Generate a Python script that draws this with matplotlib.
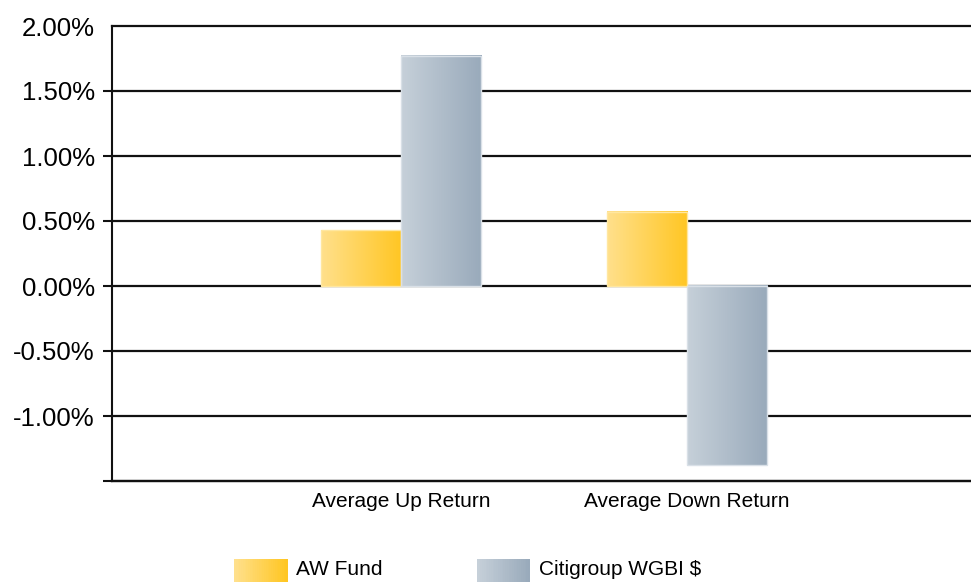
import numpy as np
import matplotlib
matplotlib.use("Agg")
import matplotlib.pyplot as plt
from matplotlib.patches import Rectangle
from matplotlib.legend_handler import HandlerBase
from matplotlib.colors import LinearSegmentedColormap

categories = ["Average Up Return", "Average Down Return"]
series_names = ["AW Fund", "Citigroup WGBI $"]
aw_fund = [0.43, 0.57]
citigroup = [1.77, -1.38]
y_ticks = [-1.5, -1.0, -0.5, 0.0, 0.5, 1.0, 1.5, 2.0]
y_labels = ["", "-1.00%", "-0.50%", "0.00%", "0.50%", "1.00%", "1.50%", "2.00%"]

grad_colors = [("#FFE08C", "#FFC623"), ("#C6D0D9", "#99AABB")]
edge_colors = ["#FFE7A0", "#D9E0E7"]

plt.rcParams["font.family"] = ["Liberation Sans", "DejaVu Sans"]

fig = plt.figure(figsize=(9.71, 5.82), dpi=100)
ax = fig.add_axes([112 / 971, 1 - 481 / 582, 1 - 112 / 971, (481 - 26) / 582])

x = np.arange(len(categories))
width = 0.28
all_vals = [aw_fund, citigroup]
cmaps = [LinearSegmentedColormap.from_list(f"g{i}", list(c)) for i, c in enumerate(grad_colors)]
grad = np.linspace(0, 1, 256).reshape(1, -1)

for i, vals in enumerate(all_vals):
    offs = (i - 0.5) * width
    bars = ax.bar(x + offs, vals, width, facecolor="none", edgecolor=edge_colors[i],
                  linewidth=1.0, zorder=4)
    for b in bars:
        bx, by = b.get_x(), b.get_y()
        bw, bh = b.get_width(), b.get_height()
        ax.imshow(grad, cmap=cmaps[i], extent=(bx, bx + bw, by, by + bh),
                  aspect="auto", interpolation="bicubic", zorder=3)

ax.set_xlim(-1.009, 1.991)
ax.set_ylim(-1.5, 2.0)
ax.set_yticks(y_ticks)
ax.set_yticklabels(y_labels, fontsize=18.5)
ax.set_xticks(x)
ax.set_xticklabels(categories, fontsize=15)
ax.tick_params(axis="x", length=0, pad=8)
ax.tick_params(axis="y", length=6.5, width=1.5, color="#111111", pad=6)
ax.yaxis.get_major_ticks()[-1].tick1line.set_visible(False)
ax.grid(axis="y", color="#111111", linewidth=1.6, zorder=1)
for gl in ax.get_ygridlines():
    gl.set_clip_on(False)
ax.set_axisbelow(True)
for s in ["top", "right"]:
    ax.spines[s].set_visible(False)
ax.spines["left"].set_linewidth(1.5)
ax.spines["left"].set_color("#111111")
ax.spines["bottom"].set_linewidth(1.6)
ax.spines["bottom"].set_color("#111111")


class GradientHandler(HandlerBase):
    def __init__(self, c0, c1, **kw):
        super().__init__(**kw)
        self.cmap = LinearSegmentedColormap.from_list("h", [c0, c1])

    def create_artists(self, legend, orig_handle, xdescent, ydescent, width, height,
                       fontsize, trans):
        n = 30
        arts = []
        h = 1.5 * fontsize
        y0 = -0.75 * fontsize
        for k in range(n):
            r = Rectangle((-xdescent + width * k / n, y0), width / n + 0.3, h,
                          facecolor=self.cmap(k / (n - 1)), edgecolor="none",
                          transform=trans)
            arts.append(r)
        return arts


h1 = Rectangle((0, 0), 1, 1)
h2 = Rectangle((0, 0), 1, 1)
fig.legend([h1, h2], series_names, loc="upper left",
           bbox_to_anchor=(234 / 971, 1 - 560 / 582), ncol=2, frameon=False,
           fontsize=15, handlelength=2.55, handletextpad=0.45, columnspacing=4.5,
           borderpad=0, borderaxespad=0,
           handler_map={h1: GradientHandler(*grad_colors[0]),
                        h2: GradientHandler(*grad_colors[1])})

fig.savefig("out.png", dpi=100)
